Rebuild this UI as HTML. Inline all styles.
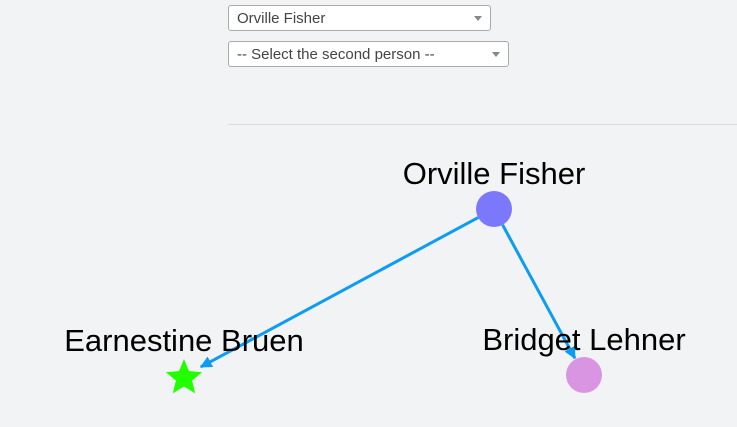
<!DOCTYPE html>
<html><head><meta charset="utf-8"><style>
body{margin:0;width:737px;height:427px;background:#f2f3f5;font-family:"Liberation Sans",sans-serif;overflow:hidden;position:relative}
.sel{position:absolute;left:228px;height:26px;border:1px solid #aaa;border-radius:3px;background:#fff;box-sizing:border-box;font-size:15px;color:#444;line-height:26px;padding-left:8px}
.sel:after{content:"";position:absolute;right:8px;top:10px;border-left:4px solid transparent;border-right:4px solid transparent;border-top:5px solid #888}
#hr{position:absolute;left:228px;top:124px;width:509px;height:1px;background:#dcdcdc}
svg{position:absolute;left:0;top:0}
</style></head><body>
<div class="sel" style="top:5px;width:263px">Orville Fisher</div>
<div class="sel" style="top:41px;width:281px">-- Select the second person --</div>
<div id="hr"></div>
<svg id="g" width="737" height="427">
<defs><marker id="ar" markerWidth="12" markerHeight="12" refX="11" refY="6" orient="auto" markerUnits="userSpaceOnUse"><path d="M0,0L12,6L0,12z" fill="#0c9cf2"/></marker></defs>
</svg>
<script>
const nodeNames=["Orville Fisher","Earnestine Bruen","Bridget Lehner"];
const nodeX=[494,184,584];
const nodeY=[209,376,375];
const nodeColors=["#7b78fb","#22ff00","#d995e2"];
const nodeShapes=["circle","star","circle"];
const edgeFrom=[0,0];
const edgeTo=[1,2];
const NS="http://www.w3.org/2000/svg",svg=document.getElementById('g');
const R=18;
edgeFrom.forEach((f,i)=>{const t=edgeTo[i];
 const dx=nodeX[t]-nodeX[f],dy=nodeY[t]-nodeY[f],d=Math.hypot(dx,dy);
 const l=document.createElementNS(NS,'line');
 l.setAttribute('x1',nodeX[f]+dx/d*R);l.setAttribute('y1',nodeY[f]+dy/d*R);
 l.setAttribute('x2',nodeX[t]-dx/d*(R+1));l.setAttribute('y2',nodeY[t]-dy/d*(R+1));
 l.setAttribute('stroke','#0c9cf2');l.setAttribute('stroke-width','3');l.setAttribute('marker-end','url(#ar)');
 
 
 svg.appendChild(l);});
nodeNames.forEach((n,i)=>{let s;
 if(nodeShapes[i]==='star'){s=document.createElementNS(NS,'polygon');let p=[];
  for(let k=0;k<10;k++){const r=k%2?8.5:19,a=-Math.PI/2+k*Math.PI/5;p.push((nodeX[i]+r*Math.cos(a)).toFixed(1)+','+(nodeY[i]+2+r*Math.sin(a)).toFixed(1));}
  s.setAttribute('points',p.join(' '));}
 else{s=document.createElementNS(NS,'circle');s.setAttribute('cx',nodeX[i]);s.setAttribute('cy',nodeY[i]);s.setAttribute('r',R);}
 s.setAttribute('fill',nodeColors[i]);
 
 
 svg.appendChild(s);
 const t=document.createElementNS(NS,'text');t.setAttribute('x',nodeX[i]);t.setAttribute('y',nodeY[i]-25);
 t.setAttribute('text-anchor','middle');t.setAttribute('font-size','31');t.setAttribute('font-family','Liberation Sans, sans-serif');
 t.textContent=n;
 
 
 svg.appendChild(t);});
</script>
</body></html>
